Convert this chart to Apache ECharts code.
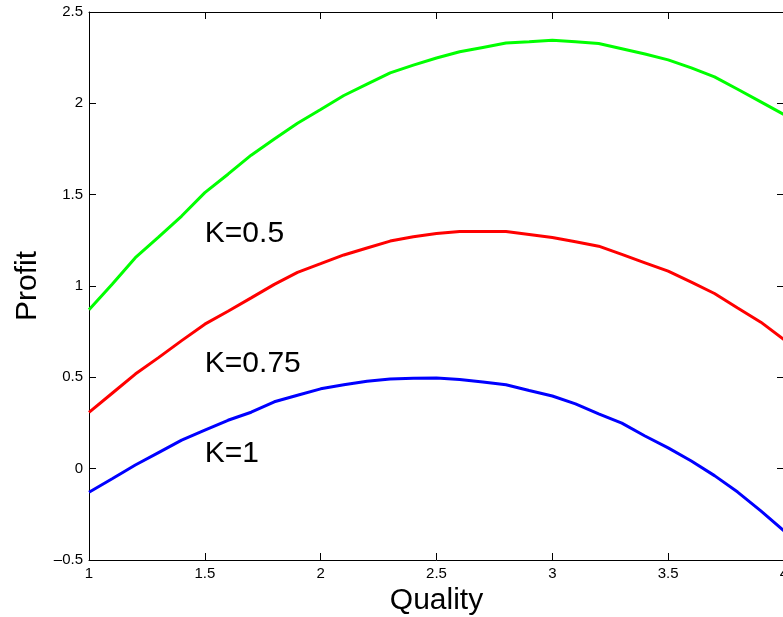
<!DOCTYPE html>
<html>
<head>
<meta charset="utf-8">
<script src="https://cdn.jsdelivr.net/npm/echarts@6/dist/echarts.min.js"></script>
<style>
  html, body { margin: 0; padding: 0; background: #fff; }
  #chart { width: 783px; height: 617px; }
</style>
</head>
<body>
<div id="chart"></div>
<script>
// quality values, step 0.1
var quality = [1, 1.1, 1.2, 1.3, 1.4, 1.5, 1.6, 1.7, 1.8, 1.9, 2, 2.1, 2.2, 2.3, 2.4, 2.5,
  2.6, 2.7, 2.8, 2.9, 3, 3.1, 3.2, 3.3, 3.4, 3.5, 3.6, 3.7, 3.8, 3.9, 4]
var profitK05 = [0.87, 1.01, 1.155, 1.267, 1.383, 1.511, 1.612, 1.716, 1.805, 1.891, 1.966,
  2.043, 2.105, 2.167, 2.209, 2.248, 2.282, 2.306, 2.33, 2.337, 2.345, 2.337, 2.328,
  2.299, 2.27, 2.238, 2.194, 2.145, 2.077, 2.008, 1.939]
var profitK075 = [0.308, 0.413, 0.518, 0.608, 0.701, 0.791, 0.862, 0.935, 1.009, 1.075, 1.122,
  1.17, 1.208, 1.246, 1.27, 1.287, 1.299, 1.298, 1.298, 1.282, 1.266, 1.242, 1.218,
  1.173, 1.127, 1.081, 1.021, 0.959, 0.88, 0.802, 0.707]
var profitK1 = [-0.129, -0.055, 0.02, 0.088, 0.156, 0.211, 0.265, 0.309, 0.366, 0.402, 0.437,
  0.459, 0.479, 0.491, 0.495, 0.496, 0.488, 0.475, 0.459, 0.428, 0.398, 0.355, 0.3,
  0.249, 0.179, 0.114, 0.042, -0.038, -0.128, -0.231, -0.34]

// text labels placed in the plot
var noteText = ['K=0.5', 'K=0.75', 'K=1']
var noteX = [1.5, 1.5, 1.5]
var noteY = [1.285, 0.575, 0.083]

var font = 'Liberation Sans, Arial, sans-serif'

function pairs(ys) {
  var out = []
  for (var i = 0; i < quality.length; i++) {
    out.push([quality[i], ys[i]])
  }
  return out
}

var notes = []
for (var i = 0; i < noteText.length; i++) {
  notes.push({ value: [noteX[i], noteY[i]], name: noteText[i] })
}

function tickLabel(v) {
  return String(v).replace('-', '\u2013')
}

var axisLineStyle = { color: '#000', width: 1 }

var chart = echarts.init(document.getElementById('chart'))
chart.setOption({
  animation: false,
  grid: { left: 89, right: -1, top: 12, bottom: 57, containLabel: false, outerBoundsMode: 'none' },
  xAxis: [{
    type: 'value',
    min: 1,
    max: 4,
    interval: 0.5,
    name: 'Quality',
    nameLocation: 'middle',
    nameGap: 25,
    nameTextStyle: { fontSize: 30, fontFamily: font, color: '#000' },
    axisLine: { onZero: false, lineStyle: axisLineStyle },
    axisTick: { inside: true, length: 7, lineStyle: axisLineStyle },
    axisLabel: { fontSize: 15, fontFamily: font, color: '#000', margin: 6, formatter: tickLabel },
    splitLine: { show: false }
  }, {
    type: 'value',
    position: 'top',
    min: 1,
    max: 4,
    interval: 0.5,
    axisLine: { onZero: false, lineStyle: axisLineStyle },
    axisTick: { inside: true, length: 7, lineStyle: axisLineStyle },
    axisLabel: { show: false },
    splitLine: { show: false }
  }],
  yAxis: [{
    type: 'value',
    min: -0.5,
    max: 2.5,
    interval: 0.5,
    name: 'Profit',
    nameLocation: 'middle',
    nameGap: 42,
    nameTextStyle: { fontSize: 30, fontFamily: font, color: '#000' },
    axisLine: { show: true, onZero: false, lineStyle: axisLineStyle },
    axisTick: { show: true, inside: true, length: 7, lineStyle: axisLineStyle },
    axisLabel: { fontSize: 15, fontFamily: font, color: '#000', margin: 6, formatter: tickLabel },
    splitLine: { show: false }
  }, {
    type: 'value',
    position: 'right',
    min: -0.5,
    max: 2.5,
    interval: 0.5,
    axisLine: { show: true, onZero: false, lineStyle: axisLineStyle },
    axisTick: { show: true, inside: true, length: 7, lineStyle: axisLineStyle },
    axisLabel: { show: false },
    splitLine: { show: false }
  }],
  series: [{
    name: 'K=0.5',
    type: 'line',
    data: pairs(profitK05),
    showSymbol: false,
    lineStyle: { color: '#00ff00', width: 3 }
  }, {
    name: 'K=0.75',
    type: 'line',
    data: pairs(profitK075),
    showSymbol: false,
    lineStyle: { color: '#ff0000', width: 3 }
  }, {
    name: 'K=1',
    type: 'line',
    data: pairs(profitK1),
    showSymbol: false,
    lineStyle: { color: '#0000ff', width: 3 }
  }, {
    type: 'scatter',
    data: notes,
    symbolSize: 0,
    silent: true,
    itemStyle: { opacity: 1 },
    label: {
      show: true,
      position: 'right',
      distance: 0,
      formatter: '{b}',
      fontSize: 30,
      fontFamily: font,
      color: '#000',
      opacity: 1
    }
  }]
})
</script>
</body>
</html>
